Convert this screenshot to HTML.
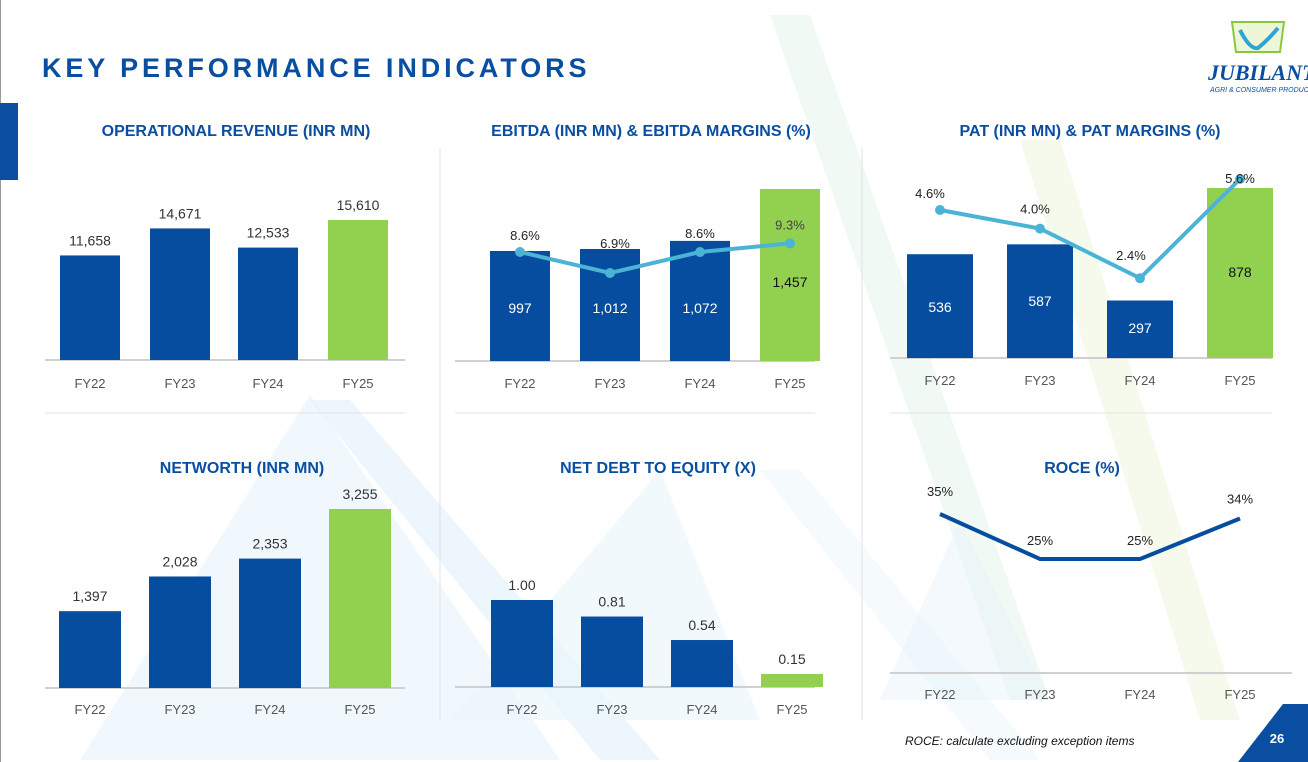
<!DOCTYPE html>
<html><head><meta charset="utf-8"><style>
html,body{margin:0;padding:0;background:#fff;}
svg{display:block;font-family:"Liberation Sans",sans-serif;}
</style></head><body>
<svg id="s" width="1308" height="762" viewBox="0 0 1308 762" xmlns="http://www.w3.org/2000/svg">
<g>
<polygon points="770,15 810,15 1050,700 1010,700" fill="#eaf6ee" opacity="0.7"/>
<polygon points="1020,140 1060,140 1240,720 1200,720" fill="#f1f8e6" opacity="0.7"/>
<polygon points="80,760 310,395 560,760" fill="#e6f3fb" opacity="0.6"/>
<polygon points="310,400 350,400 660,760 600,760" fill="#e1f0fa" opacity="0.6"/>
<polygon points="450,720 660,470 760,720" fill="#eaf5fc" opacity="0.6"/>
<polygon points="760,470 800,470 1040,760 990,760" fill="#eef7fc" opacity="0.6"/>
<polygon points="880,700 960,520 1050,700" fill="#e7f4fb" opacity="0.5"/>
</g>
<rect x="0" y="0" width="1" height="762" fill="#999"/>
<rect x="0" y="103" width="18" height="77" fill="#0a4ea2"/>
<text x="42" y="77" font-size="27" font-weight="bold" fill="#0a4ea2" letter-spacing="3.9">KEY PERFORMANCE INDICATORS</text>
<g>
<path d="M1232,22 L1284,22 L1280,52 L1236,52 Z" fill="#eef6d8" stroke="#8cc63f" stroke-width="2"/>
<path d="M1240,30 Q1250,50 1258,48 Q1268,40 1278,28" fill="none" stroke="#2aa6d9" stroke-width="4"/>
<text x="1208" y="80" font-size="22" font-weight="bold" font-style="italic" fill="#0a4ea2" font-family="Liberation Serif,serif">JUBILANT</text>
<text x="1210" y="92" font-size="7" font-style="italic" fill="#0a4ea2">AGRI &amp; CONSUMER PRODUCTS</text>
</g>
<g stroke="#e3e3e3" stroke-width="1">
<line x1="440" y1="148" x2="440" y2="720"/><line x1="862" y1="148" x2="862" y2="720"/>
<line x1="45" y1="413" x2="405" y2="413"/><line x1="455" y1="413" x2="815" y2="413"/><line x1="890" y1="413" x2="1272" y2="413"/>
</g>
<text x="905" y="745" font-size="12" font-style="italic" fill="#111">ROCE: calculate excluding  exception items</text>
<polygon points="1238,762 1308,762 1308,704 1283,704" fill="#0a4ea2"/>
<text x="1277" y="743" font-size="13" font-weight="bold" fill="#fff" text-anchor="middle">26</text>
</svg>
<script>
const cats=["FY22","FY23","FY24","FY25"];
const revenue=[11658,14671,12533,15610];
const ebitda=[997,1012,1072,1457];
const ebitdaMargin=[8.6,6.9,8.6,9.3];
const pat=[536,587,297,878];
const patMargin=[4.6,4.0,2.4,5.6];
const networth=[1397,2028,2353,3255];
const netDebt=[1.00,0.81,0.54,0.15];
const roce=[35,25,25,34];
const revLabels=["11,658","14,671","12,533","15,610"];
const ebitdaLabels=["997","1,012","1,072","1,457"];
const nwLabels=["1,397","2,028","2,353","3,255"];
const ndLabels=["1.00","0.81","0.54","0.15"];

const NS="http://www.w3.org/2000/svg";
const svg=document.getElementById('s');
const BLUE="#064da0",GREEN="#92d050",LINE="#4bb3d6";
function mk(tag,attrs,parent){const e=document.createElementNS(NS,tag);for(const k in attrs)e.setAttribute(k,attrs[k]);(parent||svg).appendChild(e);return e;}
function txt(x,y,s,size,fill,anchor,weight,parent){const t=mk('text',{x:x,y:y,'font-size':size,fill:fill,'text-anchor':anchor||'middle','font-weight':weight||'normal'},parent);t.textContent=s;return t;}

function panel(name,title,tx,ty,centers,baseline,axisX1,axisX2,catY){
  const g=mk('g',{});
  
  
  const t=txt(tx,ty,title,16,"#0a4ea2",'middle','bold',g);
  
  
  const ax=mk('line',{x1:axisX1,x2:axisX2,y1:baseline,y2:baseline,stroke:'#d0d0d0','stroke-width':2},g);
  
  
  cats.forEach((c,i)=>{const l=txt(centers[i],catY,c,13,'#555','middle','normal',g);
    
    });
  return g;
}
function bars(g,vals,centers,baseline,w,hFn,labels,labelMode){
  vals.forEach((v,i)=>{
    const h=hFn(v),top=baseline-h;
    const r=mk('rect',{x:centers[i]-w/2,y:top,width:w,height:h,fill:i===3?GREEN:BLUE},g);
    
    
    if(labels){
      let l;
      if(labelMode==='above') l=txt(centers[i],top-10,labels[i],14,'#333','middle','normal',g);
      else l=txt(centers[i],labelMode(i,top),labels[i],14,i===3?'#111':'#fff','middle','normal',g);
      
      
    }
  });
}
function line(g,vals,centers,yFn,color,width,dots,labels,labelDy){
  const pts=vals.map((v,i)=>centers[i]+','+yFn(v)).join(' ');
  const p=mk('polyline',{points:pts,fill:'none',stroke:color,'stroke-width':width},g);
  
  
  vals.forEach((v,i)=>{
    if(dots){const c=mk('circle',{cx:centers[i],cy:yFn(v),r:5,fill:color},g);
      
      }
    const l=txt(centers[i]+(labelDy[i][0]||0),yFn(v)+labelDy[i][1],labels[i],13,labels[i]==='9.3%'?'#444':'#222','middle','normal',g);
    
    
  });
}

let c1=[90,180,268,358];
let g=panel('revenue-chart','OPERATIONAL REVENUE (INR MN)',236,136,c1,360,45,405,388);
bars(g,revenue,c1,360,60,v=>v*140/15610,revLabels,'above');
let c2=[520,610,700,790];
g=panel('ebitda-chart','EBITDA (INR MN) & EBITDA MARGINS (%)',651,136,c2,361,455,815,388);
bars(g,ebitda,c2,361,60,v=>(v-181)*0.1348,ebitdaLabels,(i,top)=>i===3?287:313);
line(g,ebitdaMargin,c2,m=>252-(m-8.6)*12.35,LINE,4,true,ebitdaMargin.map(m=>m.toFixed(1)+'%'),[[5,-12],[5,-25],[0,-14],[0,-14]]);
let c3=[940,1040,1140,1240];
g=panel('pat-chart','PAT (INR MN) & PAT MARGINS (%)',1090,136,c3,358,890,1272,385);
bars(g,pat,c3,358,66,v=>v*170/878,["536","587","297","878"],(i,top)=>[312,306,333,277][i]);
line(g,patMargin,c3,m=>210-(m-4.6)*31,LINE,4,true,patMargin.map(m=>m.toFixed(1)+'%'),[[-10,-12],[-5,-15],[-9,-18],[0,4]]);
let c4=[90,180,270,360];
g=panel('networth-chart','NETWORTH (INR MN)',242,473,c4,688,45,405,714);
bars(g,networth,c4,688,62,v=>v*179/3255,nwLabels,'above');
let c5=[522,612,702,792];
g=panel('net-debt-equity-chart','NET DEBT TO EQUITY (X)',658,473,c5,687,455,815,714);
bars(g,netDebt,c5,687,62,v=>v*87,ndLabels,'above');
g=panel('roce-chart','ROCE (%)',1082,473,c3,673,890,1292,699);
line(g,roce,c3,v=>559-(v-25)*4.5,"#064da0",4,false,roce.map(v=>v+'%'),[[0,-18],[0,-14],[0,-14],[0,-15]]);
</script>
</body></html>
